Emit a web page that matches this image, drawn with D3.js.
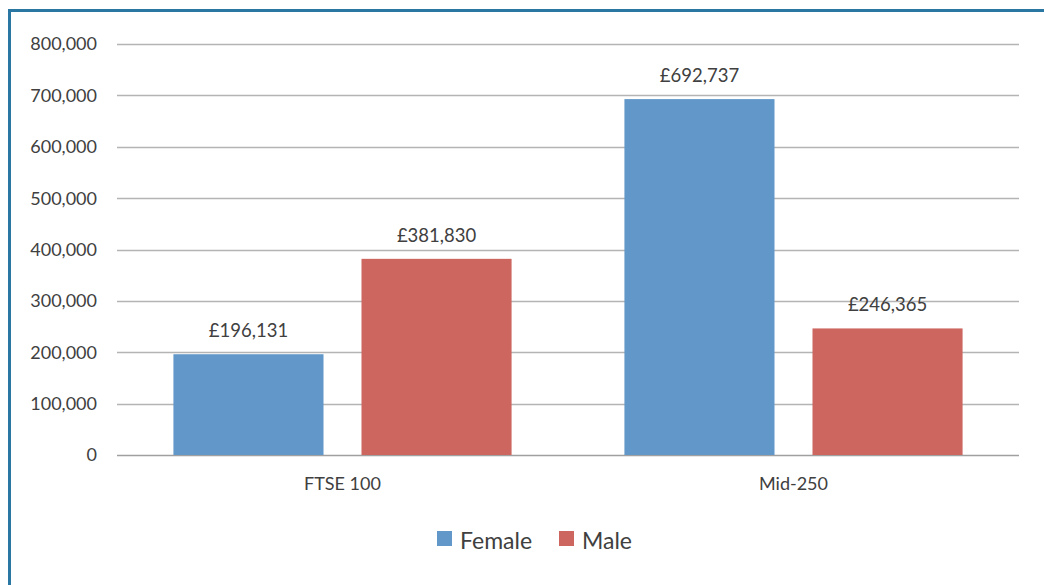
<!DOCTYPE html>
<html>
<head>
<meta charset="utf-8">
<script src="https://cdn.jsdelivr.net/npm/d3@7"></script>
<style>
  body { margin: 0; background: #fff; }
  text { font-family: Lato, 'Open Sans', sans-serif; fill: #404040; }
</style>
</head>
<body>
<div id="chart"></div>
<script>
const categories = ['FTSE 100', 'Mid-250']
const seriesNames = ['Female', 'Male']
const female = [196131, 692737]
const male = [381830, 246365]
const yTicks = [0, 100000, 200000, 300000, 400000, 500000, 600000, 700000, 800000]
const colors = ['#6197c9', '#cc665f']

let width = 1044
let height = 585
let plotLeft = 117
let plotRight = 1019
let plotTop = 44
let plotBottom = 455

let svg = d3.select('#chart')
  .append('svg')
  .attr('width', width)
  .attr('height', height)

// frame (left + top edges only, as in the source)
svg.append('path')
  .attr('d', `M9.5,${height} L9.5,10.5 L${width},10.5`)
  .attr('fill', 'none')
  .attr('stroke', '#2b77a3')
  .attr('stroke-width', 3)

let y = d3.scaleLinear().domain([0, 800000]).range([plotBottom, plotTop])
let x0 = d3.scaleBand().domain(categories).range([plotLeft, plotRight])
let x1 = d3.scaleBand().domain(seriesNames)
  .range([0, x0.bandwidth()])
  .paddingInner(0.202)
  .paddingOuter(0.3)

let fmt = d3.format(',')

// grid + tick labels
let grid = svg.append('g')
grid.selectAll('line')
  .data(yTicks)
  .enter()
  .append('line')
  .attr('x1', plotLeft)
  .attr('x2', plotRight)
  .attr('y1', d => Math.round(y(d)) + 0.5)
  .attr('y2', d => Math.round(y(d)) + 0.5)
  .attr('stroke', d => d === 0 ? '#a0a0a0' : '#b4b4b4')
  .attr('stroke-width', 1.5)

grid.selectAll('text')
  .data(yTicks)
  .enter()
  .append('text')
  .attr('x', 97)
  .attr('y', d => y(d))
  .attr('dy', '0.36em')
  .attr('text-anchor', 'end')
  .style('font-size', '18px')
  .text(d => fmt(d))

let rows = categories.map((c, i) => ({ cat: c, values: [female[i], male[i]] }))

let groups = svg.append('g')
  .selectAll('g')
  .data(rows)
  .enter()
  .append('g')
  .attr('transform', d => 'translate(' + x0(d.cat) + ',0)')

let bars = groups.selectAll('g.bar')
  .data(d => d.values.map((v, j) => ({ name: seriesNames[j], value: v, idx: j })))
  .enter()
  .append('g')
  .attr('class', 'bar')

bars.append('rect')
  .attr('x', d => x1(d.name))
  .attr('y', d => y(d.value))
  .attr('width', x1.bandwidth())
  .attr('height', d => plotBottom - y(d.value))
  .attr('fill', d => colors[d.idx])

bars.append('text')
  .attr('x', d => x1(d.name) + x1.bandwidth() / 2)
  .attr('y', d => y(d.value) - 17)
  .attr('text-anchor', 'middle')
  .style('font-size', '18.5px')
  .text(d => '£' + fmt(d.value))

// category labels
svg.append('g')
  .selectAll('text')
  .data(categories)
  .enter()
  .append('text')
  .attr('x', d => x0(d) + x0.bandwidth() / 2)
  .attr('y', 490)
  .attr('text-anchor', 'middle')
  .style('font-size', '18px')
  .text(d => d)

// legend
let legendX = [437, 559]
let legend = svg.append('g')
  .selectAll('g')
  .data(seriesNames)
  .enter()
  .append('g')
  .attr('transform', (d, i) => 'translate(' + legendX[i] + ',531)')

legend.append('rect')
  .attr('width', 15)
  .attr('height', 15)
  .attr('fill', (d, i) => colors[i])

legend.append('text')
  .attr('x', 23)
  .attr('y', 18)
  .style('font-size', '23px')
  .text(d => d)
</script>
</body>
</html>
